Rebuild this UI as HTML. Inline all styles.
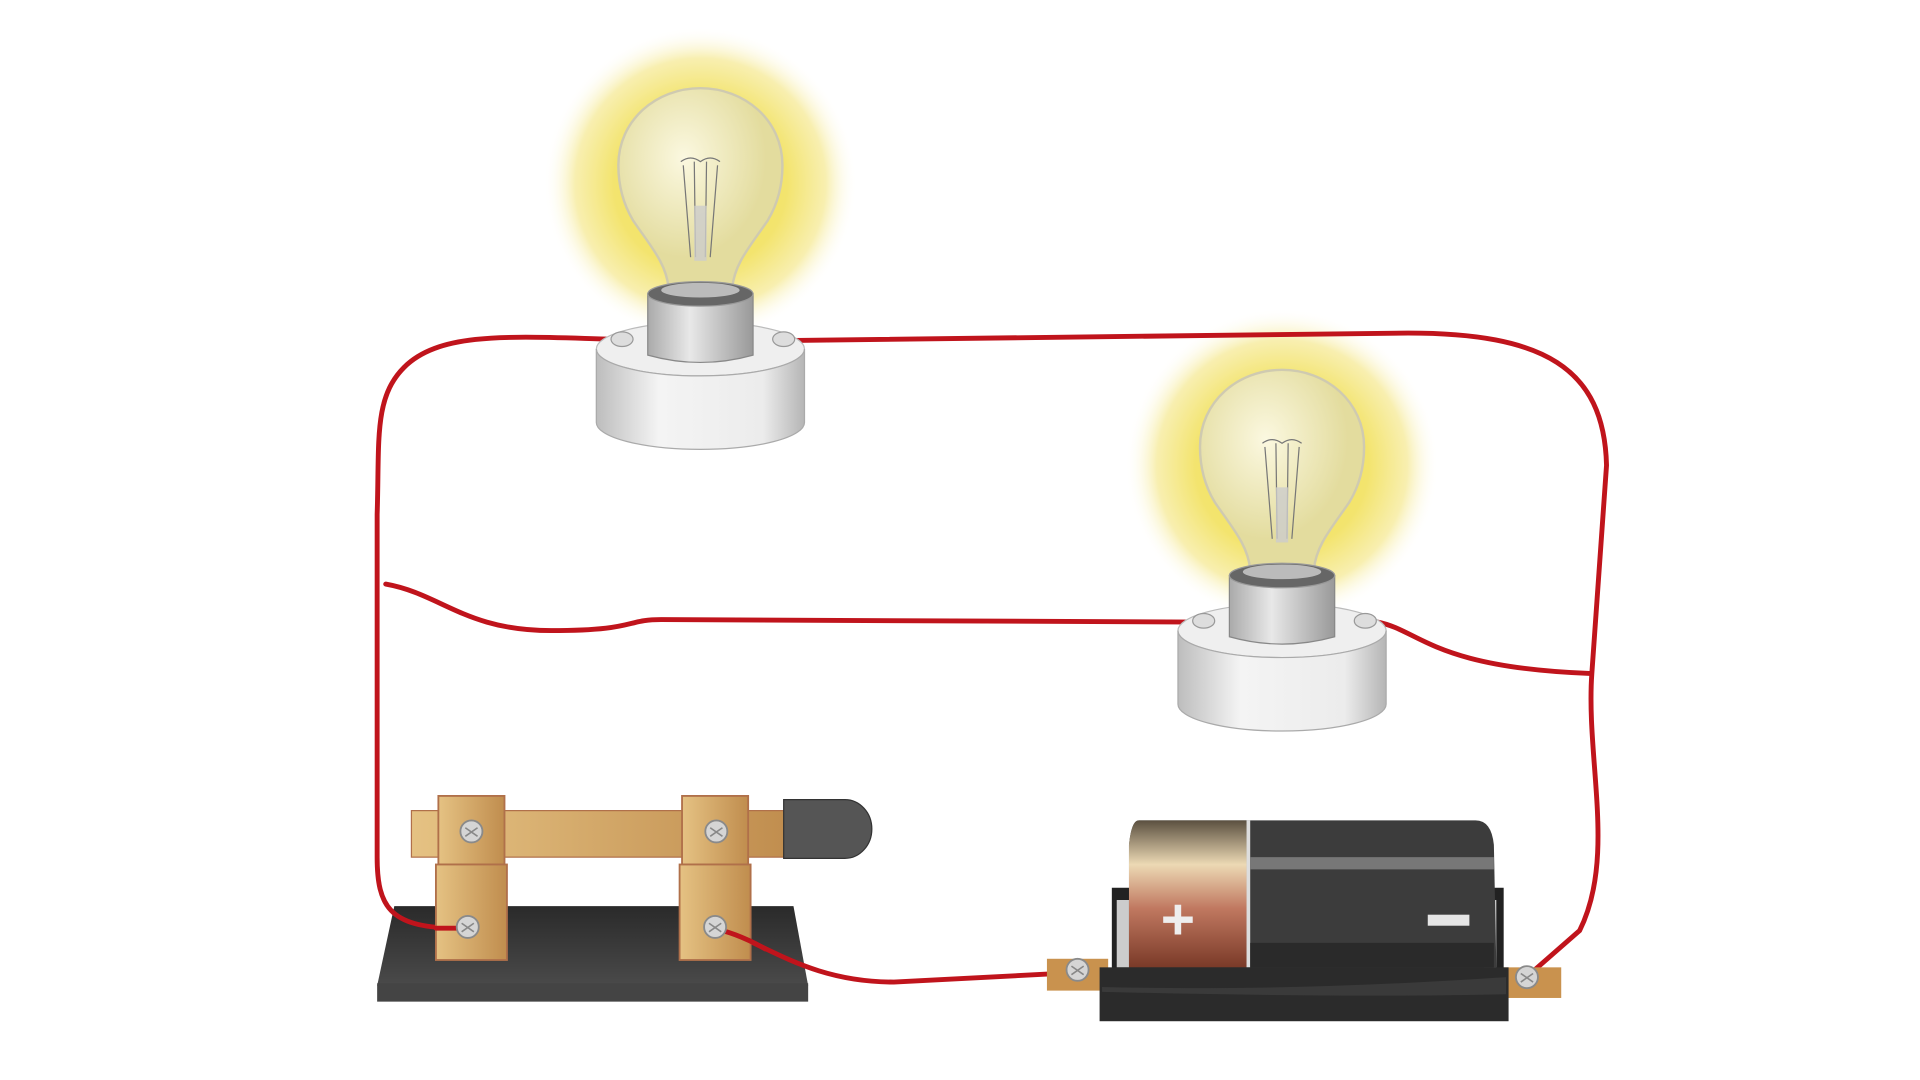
<!DOCTYPE html>
<html><head><meta charset="utf-8"><style>html,body{margin:0;padding:0;background:#fff}svg{display:block}</style></head>
<body>
<svg width="1920" height="1080" viewBox="0 0 1568 882" xmlns="http://www.w3.org/2000/svg">
<defs>
<radialGradient id="glow"><stop offset="0" stop-color="#f1df55"/><stop offset="0.55" stop-color="#f3e46e"/><stop offset="0.8" stop-color="#f8efb0"/><stop offset="1" stop-color="#fff" stop-opacity="0"/></radialGradient>
<radialGradient id="glass" cx="0.4" cy="0.35"><stop offset="0" stop-color="#fbf8e0"/><stop offset="1" stop-color="#e3dc9e"/></radialGradient>
<linearGradient id="cyl" x1="0" x2="1"><stop offset="0" stop-color="#bdbdbd"/><stop offset="0.3" stop-color="#f4f4f4"/><stop offset="0.8" stop-color="#ececec"/><stop offset="1" stop-color="#b5b5b5"/></linearGradient>
<linearGradient id="col" x1="0" x2="1"><stop offset="0" stop-color="#aaa"/><stop offset="0.4" stop-color="#e8e8e8"/><stop offset="1" stop-color="#999"/></linearGradient>
<linearGradient id="gold" x1="0" x2="1"><stop offset="0" stop-color="#e5c283"/><stop offset="1" stop-color="#c08d4e"/></linearGradient>
<linearGradient id="cop" x1="0" y1="0" x2="0" y2="1"><stop offset="0" stop-color="#5b5040"/><stop offset="0.3" stop-color="#ecd9b4"/><stop offset="0.6" stop-color="#c07860"/><stop offset="1" stop-color="#7a3a28"/></linearGradient>
<linearGradient id="plate" x1="0" y1="0" x2="0" y2="1"><stop offset="0" stop-color="#2a2a2a"/><stop offset="1" stop-color="#4a4a4a"/></linearGradient>
<g id="bulb">
<path d="M-26,95 C-28,75 -40,62 -55,40 C-64,25 -67,10 -67,-5 C-67,-42 -36,-68 0,-68 C36,-68 67,-42 67,-5 C67,10 64,25 55,40 C40,62 28,75 26,95 Z" fill="url(#glass)" stroke="#cfcab0" stroke-width="2"/>
<path d="M-14,-5 L-8,70 M14,-5 L8,70 M-5,-8 L-4,70 M5,-8 L4,70 M-16,-8 Q-8,-14 0,-8 Q8,-14 16,-8" fill="none" stroke="#777" stroke-width="1"/>
<rect x="-5" y="28" width="10" height="45" fill="#ccc" opacity="0.8"/>
<ellipse cx="0" cy="145" rx="85" ry="22" fill="#efefef" stroke="#bbb"/>
<path d="M-85,145 L-85,205 A85,22 0 0 0 85,205 L85,145 A85,22 0 0 1 -85,145 Z" fill="url(#cyl)" stroke="#aaa"/>
<path d="M-43,100 L-43,150 Q0,162 43,150 L43,100 Z" fill="url(#col)" stroke="#888"/>
<ellipse cx="0" cy="100" rx="43" ry="10" fill="#666" stroke="#999"/>
<ellipse cx="0" cy="97" rx="32" ry="6" fill="#bbb"/>
<g fill="#ddd" stroke="#999"><ellipse cx="-64" cy="137" rx="9" ry="6"/><ellipse cx="68" cy="137" rx="9" ry="6"/></g>
</g>
<g id="screw"><circle r="9" fill="#d5d5d5" stroke="#8a8a8a" stroke-width="1.5"/><path d="M-5,-3 L5,4 M5,-3 L-5,4" stroke="#888" stroke-width="1.3"/></g>
</defs>
<circle cx="572" cy="150" r="128" fill="url(#glow)"/>
<circle cx="1047" cy="380" r="128" fill="url(#glow)"/>
<!-- switch plate -->
<polygon points="322,740 648,740 660,805 308,805" fill="url(#plate)"/>
<rect x="308" y="803" width="352" height="15" fill="#444"/>
<!-- wires -->
<g fill="none" stroke="#c0141c" stroke-width="4" stroke-linecap="round">
<path d="M500,277 C420,275 360,270 330,300 C305,325 310,360 308,420 L308,700 C308,740 318,757 370,758"/>
<path d="M650,278 L1150,272 C1260,272 1310,300 1312,380 L1300,550 C1295,620 1320,700 1290,760 L1250,795"/>
<path d="M315,477 C360,485 380,515 450,515 C520,515 510,506 540,506 L975,508"/>
<path d="M1125,508 C1160,515 1170,545 1298,550"/>
<path d="M590,760 C625,770 660,802 730,802 L865,795"/>
</g>
<use href="#bulb" x="572" y="140"/>
<use href="#bulb" x="1047" y="370"/>
<!-- switch -->
<rect x="336" y="662" width="310" height="38" fill="url(#gold)" stroke="#b0704a"/>
<path d="M640,653 L690,653 A22,24 0 0 1 690,701 L640,701 Z" fill="#555" stroke="#333"/>
<g fill="url(#gold)" stroke="#b0704a" stroke-width="1.5">
<rect x="358" y="650" width="54" height="56"/><rect x="356" y="706" width="58" height="78"/>
<rect x="557" y="650" width="54" height="56"/><rect x="555" y="706" width="58" height="78"/>
</g>
<g fill="none" stroke="#c0141c" stroke-width="4" stroke-linecap="round">
<path d="M356,758 L378,758"/><path d="M590,760 C605,764 620,772 625,775"/>
</g>
<use href="#screw" x="385" y="679"/><use href="#screw" x="585" y="679"/>
<use href="#screw" x="382" y="757"/><use href="#screw" x="584" y="757"/>
<!-- battery -->
<rect x="855" y="783" width="50" height="26" fill="#c9924e"/>
<rect x="1225" y="790" width="50" height="25" fill="#c9924e"/>
<rect x="908" y="725" width="320" height="70" fill="#222"/>
<rect x="912" y="735" width="10" height="55" fill="#ccc"/>
<rect x="1212" y="735" width="10" height="55" fill="#ccc"/>
<path d="M930,670 L1205,670 Q1218,670 1220,690 L1222,790 L922,790 L922,690 Q924,670 930,670 Z" fill="#3c3c3c"/>
<path d="M930,670 L1018,670 L1018,790 L922,790 L922,690 Q924,670 930,670 Z" fill="url(#cop)"/>
<rect x="1018" y="670" width="3" height="120" fill="#ddd"/>
<rect x="1021" y="700" width="199" height="10" fill="#777"/>
<rect x="1021" y="770" width="199" height="20" fill="#2a2a2a"/>
<text x="962" y="767" font-family="Liberation Sans, sans-serif" font-size="48" font-weight="bold" fill="#eee" text-anchor="middle">+</text>
<rect x="1166" y="747" width="34" height="9" fill="#e5e5e5"/>
<rect x="898" y="790" width="334" height="44" fill="#2b2b2b"/>
<path d="M900,806 Q1050,810 1230,798 L1230,812 Q1100,815 900,810 Z" fill="#3a3a3a"/>
<use href="#screw" x="880" y="792"/><use href="#screw" x="1247" y="798"/>
</svg>
</body></html>
